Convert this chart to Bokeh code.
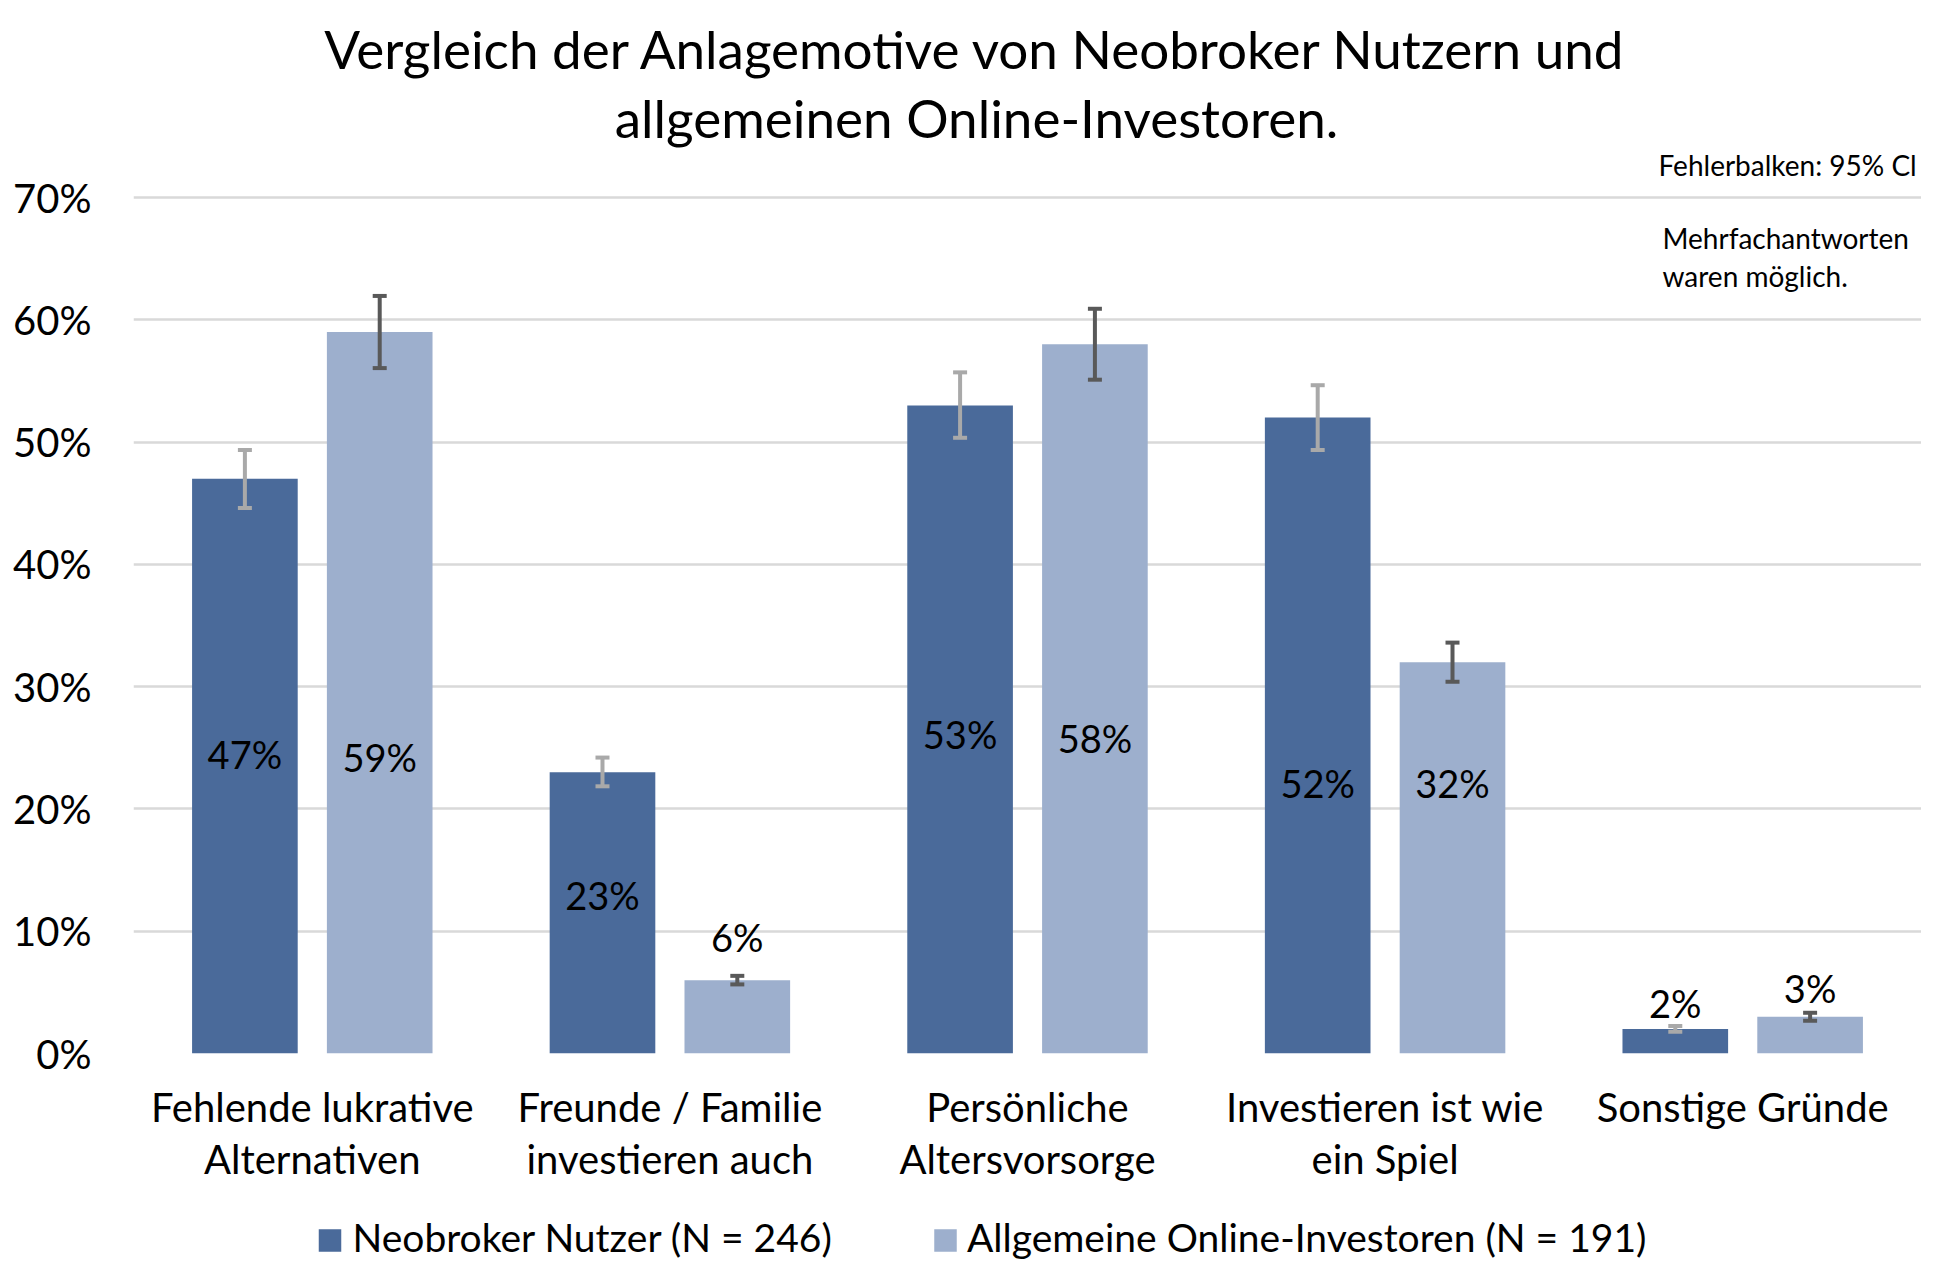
from bokeh.plotting import figure
from bokeh.layouts import column
from bokeh.models import (ColumnDataSource, FactorRange, Range1d, FixedTicker,
                          PrintfTickFormatter, Label)
from bokeh.transform import dodge
from bokeh.core.properties import value
from bokeh.embed import file_html
from bokeh.resources import INLINE

# ---------------- data ----------------
categories = [
    "Fehlende lukrative\nAlternativen",
    "Freunde / Familie\ninvestieren auch",
    "Persönliche\nAltersvorsorge",
    "Investieren ist wie\nein Spiel",
    "Sonstige Gründe",
]
series_names = ["Neobroker Nutzer (N = 246)", "Allgemeine Online-Investoren (N = 191)"]
neo = [47, 23, 53, 52, 2]
allg = [59, 6, 58, 32, 3]
neo_lo = [44.6, 21.85, 50.35, 49.35, 1.78]
neo_hi = [49.35, 24.2, 55.7, 54.65, 2.25]
allg_lo = [56.05, 5.65, 55.1, 30.4, 2.67]
allg_hi = [61.95, 6.35, 60.9, 33.6, 3.33]
y_ticks = [0, 10, 20, 30, 40, 50, 60, 70]
title_lines = ["Vergleich der Anlagemotive von Neobroker Nutzern und",
               "allgemeinen Online-Investoren."]
note_lines = ["Fehlerbalken: 95% Cl", "Mehrfachantworten", "waren möglich."]

# label anchor heights (positions, kept separate from values)
neo_label_y = [24.2, 12.65, 25.8, 21.8, 3.8]
allg_label_y = [23.95, 9.24, 25.5, 21.8, 5.0]

# ---------------- styles / layout ----------------
FONT = "Lato"
C_NEO = "#4A6A9A"
C_ALLG = "#9DAFCD"
C_ERR_NEO = "#A9A9A9"
C_ERR_ALLG = "#595959"
GRID = "#D9D9D9"
OFF = 0.1885
BAR_W = 0.2954

W = 1921                  # frame runs from BL to the right edge of the figure
BL = 133
FRAME_BOTTOM = 1053       # px from top of page to the 0% line
PX_PER_PCT = 856 / 70     # 70% spans 856 px
MAIN_BOTTOM = 142
MAIN_H = FRAME_BOTTOM + MAIN_BOTTOM
BOT_H = 1264 - MAIN_H

# ---------- main chart ----------
src = ColumnDataSource(dict(
    cat=categories, neo=neo, allg=allg,
    neo_lo=neo_lo, neo_hi=neo_hi, allg_lo=allg_lo, allg_hi=allg_hi,
    neo_ly=neo_label_y, allg_ly=allg_label_y,
    neo_txt=[f"{v}%" for v in neo], allg_txt=[f"{v}%" for v in allg],
))

p = figure(width=W, height=MAIN_H, x_range=FactorRange(*categories, range_padding=0),
           y_range=Range1d(0, FRAME_BOTTOM / PX_PER_PCT),
           output_backend="svg", toolbar_location=None,
           min_border_left=BL, min_border_right=0, min_border_top=0,
           min_border_bottom=MAIN_BOTTOM)
p.x_range.factor_padding = 0
p.outline_line_color = None

x_neo = dodge("cat", -OFF, range=p.x_range)
x_allg = dodge("cat", OFF, range=p.x_range)

p.vbar(x=x_neo, top="neo", width=BAR_W, source=src, fill_color=C_NEO, line_color=None)
p.vbar(x=x_allg, top="allg", width=BAR_W, source=src, fill_color=C_ALLG, line_color=None)

for xx, lo, hi, col in [(x_neo, "neo_lo", "neo_hi", C_ERR_NEO),
                        (x_allg, "allg_lo", "allg_hi", C_ERR_ALLG)]:
    p.segment(x0=xx, y0=lo, x1=xx, y1=hi, source=src, line_color=col, line_width=4)
    p.scatter(x=xx, y=lo, source=src, marker="dash", size=14, line_color=col, line_width=4)
    p.scatter(x=xx, y=hi, source=src, marker="dash", size=14, line_color=col, line_width=4)

for xx, ly, txt in [(x_neo, "neo_ly", "neo_txt"), (x_allg, "allg_ly", "allg_txt")]:
    p.text(x=xx, y=ly, text=txt, source=src, text_align="center", text_baseline="middle",
           y_offset=-4, text_font=value(FONT), text_font_size="38px", text_color="black")

p.yaxis.ticker = FixedTicker(ticks=y_ticks)
p.yaxis.formatter = PrintfTickFormatter(format="%d%%")
for ax in (p.xaxis, p.yaxis):
    ax.axis_line_color = None
    ax.major_tick_line_color = None
    ax.minor_tick_line_color = None
    ax.major_tick_out = 0
    ax.major_tick_in = 0
    ax.major_label_text_font = FONT
    ax.major_label_text_color = "black"
p.yaxis.major_label_text_font_size = "40px"
p.yaxis.major_label_standoff = 42
p.xaxis.major_label_text_font_size = "40px"
p.xaxis.major_label_standoff = 29
p.xaxis.major_label_text_line_height = 1.10

p.xgrid.grid_line_color = None
p.ygrid.grid_line_color = GRID
p.ygrid.grid_line_width = 2.5

# title (screen units relative to the frame: x from its left, y up from its bottom)
for txt, yy in zip(title_lines, [47.5, 116.5]):
    p.add_layout(Label(x=843, y=FRAME_BOTTOM - yy, x_units="screen", y_units="screen",
                       text=txt, text_align="center", text_baseline="middle",
                       text_font=FONT, text_font_size="53px", text_color="black"))

# notes
for txt, xx, yy in zip(note_lines, [1525, 1529, 1529], [164.5, 237, 275]):
    p.add_layout(Label(x=xx, y=FRAME_BOTTOM - yy, x_units="screen", y_units="screen",
                       text=txt, text_align="left", text_baseline="middle",
                       text_font=FONT, text_font_size="28px", text_color="black"))

# ---------- legend row ----------
bot = figure(width=W, height=BOT_H, x_range=Range1d(BL, W), y_range=Range1d(BOT_H, 0),
             output_backend="svg", toolbar_location=None, x_axis_type=None,
             y_axis_type=None, min_border_left=BL, min_border_right=0,
             min_border_top=0, min_border_bottom=0)
bot.outline_line_color = None
bot.xgrid.visible = False
bot.ygrid.visible = False
LEG_Y = 1240 - MAIN_H
bot.rect(x=[329.5, 945], y=[LEG_Y, LEG_Y], width=22.5, height=22.5,
         fill_color=[C_NEO, C_ALLG], line_color=None)
bot.text(x=[352, 966.5], y=[LEG_Y - 3.5, LEG_Y - 3.5], text=series_names,
         text_align="left", text_baseline="middle", text_font=value(FONT),
         text_font_size="39px", text_color="black")

layout = column(p, bot, spacing=0)
open("out.html", "w").write(file_html(layout, INLINE))
